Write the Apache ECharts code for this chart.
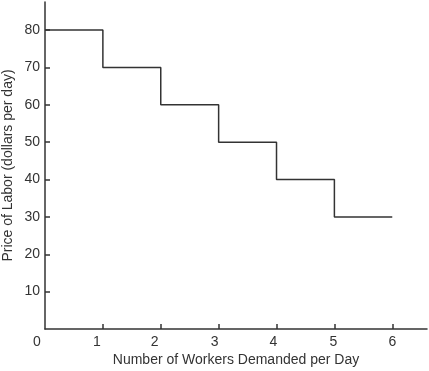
<!DOCTYPE html>
<html><head><meta charset="utf-8">
<script src="https://cdn.jsdelivr.net/npm/echarts@6/dist/echarts.min.js"></script>
<style>html,body{margin:0;padding:0;background:#fff}#c{width:429px;height:371px}</style>
</head><body><div id="c"></div>
<script>
const workers = [0, 1, 2, 3, 4, 5, 6];
const prices = [80, 70, 60, 50, 40, 30, 30];
const xTickLabels = [0, 1, 2, 3, 4, 5, 6];
const yTickLabels = [10, 20, 30, 40, 50, 60, 70, 80];
const xTitle = 'Number of Workers Demanded per Day';
const yTitle = 'Price of Labor (dollars per day)';

const chart = echarts.init(document.getElementById('c'), null, {renderer: 'canvas'});
const font = 'Liberation Sans, Arial, sans-serif';
// small leftward nudges of x tick labels, as in the original artwork
const xLabelShift = [8, 6, 6, 4, 3, 1, 0];
const rich = {};
xLabelShift.forEach((s, i) => {
  rich['l' + i] = {color: '#333', fontSize: 14, fontFamily: font, padding: [0, 2 * s, 0, 0]};
});
chart.setOption({
  animation: false,
  grid: {left: 45, right: 2, top: 2, bottom: 42, outerBoundsMode: 'none', containLabel: false},
  xAxis: {
    type: 'value', min: 0, max: 6.6,
    name: xTitle, nameLocation: 'middle', nameGap: 24, nameMoveOverlap: false,
    nameTextStyle: {color: '#333', fontSize: 14, fontFamily: font},
    axisLine: {lineStyle: {color: '#333', width: 1.5}},
    axisTick: {inside: true, length: 5, lineStyle: {color: '#333', width: 1.5}, customValues: xTickLabels.filter(v => v > 0)},
    axisLabel: {color: '#333', fontSize: 14, fontFamily: font, margin: 6, customValues: xTickLabels,
      formatter: v => '{l' + xTickLabels.indexOf(v) + '|' + v + '}', rich: rich},
    splitLine: {show: false}
  },
  yAxis: {
    type: 'value', min: 0, max: 87.5,
    name: yTitle, nameLocation: 'middle', nameGap: 30, nameRotate: 90, nameMoveOverlap: false,
    nameTextStyle: {color: '#333', fontSize: 14, fontFamily: font},
    axisLine: {show: true, lineStyle: {color: '#333', width: 1.5}},
    axisTick: {show: true, inside: true, length: 5, lineStyle: {color: '#333', width: 1.5}, customValues: yTickLabels},
    axisLabel: {color: '#333', fontSize: 14, fontFamily: font, margin: 5, customValues: yTickLabels},
    splitLine: {show: false}
  },
  series: [{
    type: 'line', step: 'end', symbol: 'none',
    data: workers.map((w, i) => [w, prices[i]]),
    lineStyle: {color: '#333', width: 1.5}
  }]
});
</script></body></html>
